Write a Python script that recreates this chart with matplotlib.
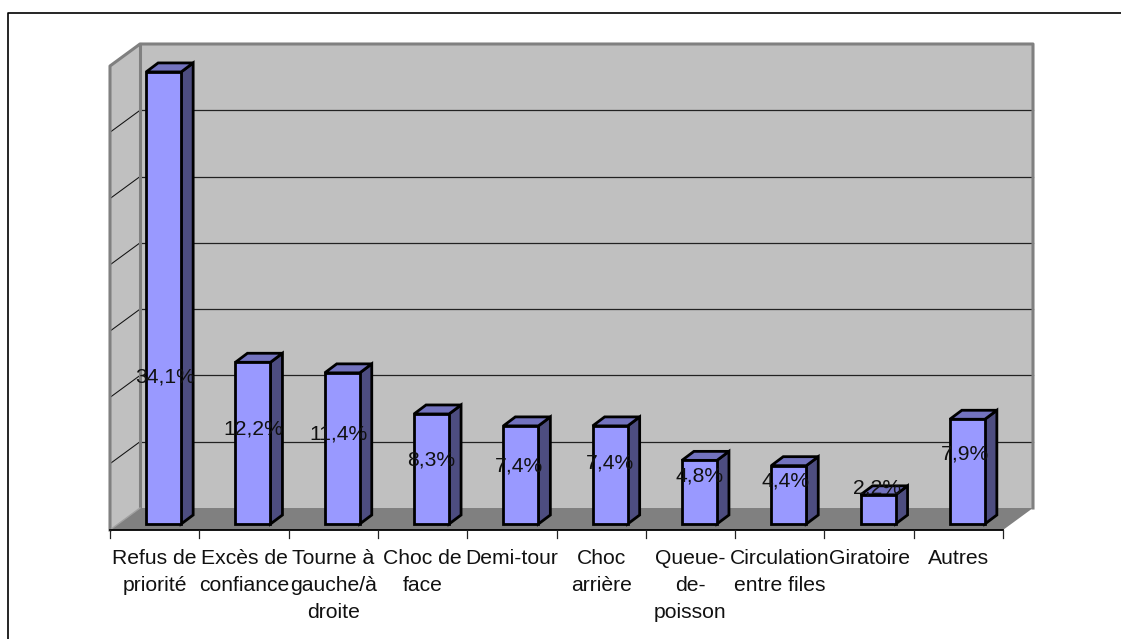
import matplotlib
matplotlib.use("Agg")
import matplotlib.pyplot as plt
from matplotlib.lines import Line2D
from matplotlib.patches import Polygon

categories = ["Refus de\npriorité", "Excès de\nconfiance", "Tourne à\ngauche/à\ndroite",
              "Choc de\nface", "Demi-tour", "Choc\narrière", "Queue-\nde-\npoisson",
              "Circulation\nentre files", "Giratoire", "Autres"]
values = [34.1, 12.2, 11.4, 8.3, 7.4, 7.4, 4.8, 4.4, 2.2, 7.9]
value_labels = ["34,1%", "12,2%", "11,4%", "8,3%", "7,4%", "7,4%", "4,8%", "4,4%", "2,2%", "7,9%"]
grid_values = [5, 10, 15, 20, 25, 30]

# where each value label sits relative to the top of its bar, in pixels
label_dx = [1, 0, -4, 0, -2, 0, 0, -3, -1, -2]
label_dy = [-305, -67, -61, -46, -40, -37, -16, -15, 7, -35]

W, H = 1121, 639
WALL = "#C0C0C0"
FLOOR = "#808080"
FRONT = "#9999FF"
SIDE = "#4D4D80"
TOP = "#7373BF"

plt.rcParams["font.family"] = ["Liberation Sans", "DejaVu Sans"]

fig = plt.figure(figsize=(W / 100, H / 100), dpi=100)
ax = fig.add_axes([119 / W, (H - 524) / H, 893 / W, 464 / H])
ax.set_xlim(0, 10)
ax.set_ylim(0, 35)
ax.axis("off")

# one pixel in data units, the 3D depth is faked with pixel offsets
px = 10 / 893
py = 35 / 464
front_x, front_y = -9 * px, -6 * py
back_x, back_y = 21 * px, 16 * py
bar_w = 0.392
dep_x, dep_y = 12 * px, 9 * py


def poly(points, color, z, edge="none", lw=0):
    ax.add_patch(Polygon(points, closed=True, facecolor=color, edgecolor=edge,
                         linewidth=lw, zorder=z, clip_on=False, joinstyle="miter"))


# walls and floor
poly([(front_x, front_y), (back_x, back_y), (back_x, 35 + back_y), (front_x, 35 + front_y)], WALL, 1)
poly([(back_x, back_y), (10 + back_x, back_y), (10 + back_x, 35 + back_y), (back_x, 35 + back_y)], WALL, 1)
poly([(front_x, front_y), (10 + front_x, front_y), (10 + back_x, back_y), (back_x, back_y)], FLOOR, 1)

for v in grid_values:
    ax.plot([front_x, back_x], [v + front_y, v + back_y], color="#111111", lw=0.75, zorder=2, clip_on=False)
    ax.plot([back_x, 10 + back_x], [v + back_y, v + back_y], color="#222222", lw=0.9, zorder=2, clip_on=False)

# wall outline
ax.plot([front_x, front_x, back_x, 10 + back_x, 10 + back_x],
        [front_y, 35 + front_y, 35 + back_y, 35 + back_y, back_y],
        color=FLOOR, lw=2.2, zorder=3, clip_on=False)
ax.plot([back_x, back_x], [back_y, 35 + back_y], color=FLOOR, lw=2.2, zorder=3, clip_on=False)
ax.plot([front_x, back_x], [front_y, back_y], color="#A0A0A0", lw=1, zorder=3, clip_on=False)

# bars
centers = [i + 0.5 for i in range(len(values))]
ax.bar(centers, values, width=bar_w, color=FRONT, edgecolor="black", linewidth=2.0, zorder=5, clip_on=False)
for c, v in zip(centers, values):
    l, r = c - bar_w / 2, c + bar_w / 2
    poly([(r, 0), (r + dep_x, dep_y), (r + dep_x, v + dep_y), (r, v)], SIDE, 4, "black", 2.0)
    poly([(l, v), (r, v), (r + dep_x, v + dep_y), (l + dep_x, v + dep_y)], TOP, 4, "black", 2.0)

# axis line and ticks on the front edge of the floor
ax.plot([front_x, 10 + front_x], [front_y, front_y], color="black", lw=1.3, zorder=6, clip_on=False)
for i in range(len(values) + 1):
    ax.plot([i + front_x, i + front_x], [front_y, front_y - 8 * py], color="#222222", lw=0.9, zorder=6, clip_on=False)

for c, name in zip(centers, categories):
    ax.text(c + front_x, front_y - 18.5 * py, name, ha="center", va="top", fontsize=15.2,
            linespacing=1.56, color="#111111", zorder=7, clip_on=False)

for c, v, text, dx, dy in zip(centers, values, value_labels, label_dx, label_dy):
    ax.annotate(text, (c, v), xytext=(dx, dy), textcoords="offset pixels", ha="center",
                va="center", fontsize=15.2, color="#111111", zorder=8, annotation_clip=False)

# chart frame, open on the right and at the bottom
fig.add_artist(Line2D([7.5 / W, 7.5 / W, 1], [0, (H - 12.5) / H, (H - 12.5) / H], color="black", lw=1.2))

fig.savefig("out.png", dpi=100, facecolor="white")
